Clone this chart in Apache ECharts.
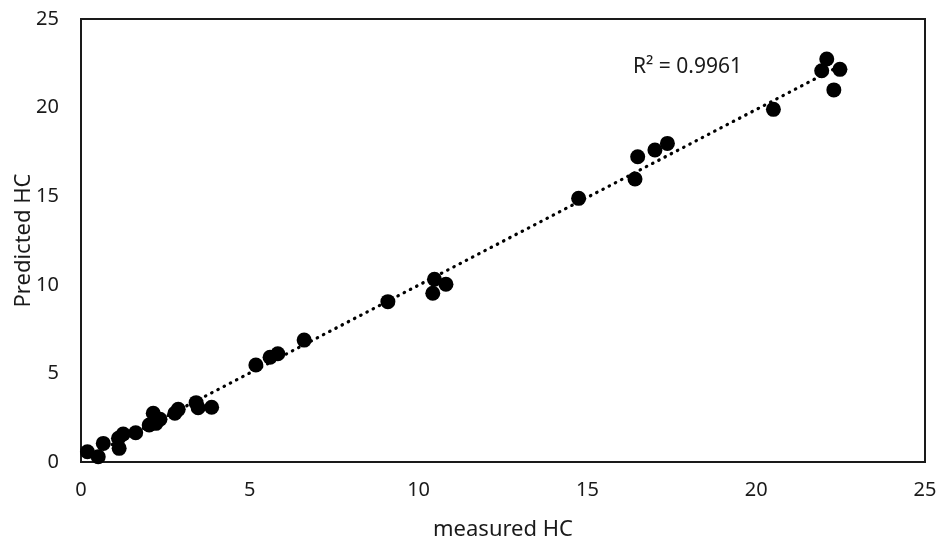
<!DOCTYPE html>
<html>
<head>
<meta charset="utf-8">
<script src="https://cdn.jsdelivr.net/npm/echarts@6/dist/echarts.min.js"></script>
<style>html,body{margin:0;padding:0;background:#fff}#c{width:939px;height:547px}</style>
</head>
<body>
<div id="c"></div>
<script>
const measured = [0.19,0.51,0.66,1.13,1.11,1.25,1.62,2.02,2.14,2.22,2.34,2.78,2.88,3.41,3.47,3.87,
  5.18,5.60,5.83,6.61,9.09,10.47,10.81,10.42,14.74,16.41,16.49,17.00,17.37,20.51,21.94,22.09,22.48,22.30];
const predicted = [0.58,0.30,1.05,0.77,1.34,1.58,1.65,2.09,2.75,2.18,2.41,2.75,2.97,3.35,3.06,3.09,
  5.47,5.91,6.11,6.88,9.05,10.31,10.03,9.52,14.88,15.97,17.23,17.61,17.98,19.9,22.08,22.74,22.16,21.0];
const xTicks = [0,5,10,15,20,25];
const yTicks = [0,5,10,15,20,25];
const r2Text = 'R² = 0.9961';

const pts = measured.map((x,i)=>[x,predicted[i]]);
// least squares trend line from data
const n = measured.length;
const mx = measured.reduce((a,b)=>a+b,0)/n, my = predicted.reduce((a,b)=>a+b,0)/n;
let sxy=0,sxx=0;
for(let i=0;i<n;i++){sxy+=(measured[i]-mx)*(predicted[i]-my);sxx+=(measured[i]-mx)**2;}
const slope=sxy/sxx, icpt=my-slope*mx;
const xmin=Math.min(...measured), xmax=Math.max(...measured);
const trend=[[xmin,icpt+slope*xmin],[xmax,icpt+slope*xmax]];

const font='"Noto Sans", sans-serif';
const chart = echarts.init(document.getElementById('c'));
chart.setOption({
  animation:false,
  grid:{left:81,top:19,right:14,bottom:85,show:true,borderColor:'#1a1a1a',borderWidth:2,backgroundColor:'#fff',
    containLabel:false,outerBoundsMode:'none'},
  xAxis:{type:'value',min:xTicks[0],max:xTicks[xTicks.length-1],interval:5,
    name:'measured HC',nameLocation:'middle',nameGap:57,nameMoveOverlap:false,
    nameTextStyle:{fontFamily:font,fontSize:22,color:'#1a1a1a'},
    axisLine:{show:false},axisTick:{show:false},splitLine:{show:false},
    axisLabel:{margin:18,fontFamily:font,fontSize:20,color:'#1a1a1a'}},
  yAxis:{type:'value',min:yTicks[0],max:yTicks[yTicks.length-1],interval:5,
    name:'Predicted HC',nameLocation:'middle',nameGap:46,nameMoveOverlap:false,
    nameTextStyle:{fontFamily:font,fontSize:22,color:'#1a1a1a'},
    axisLine:{show:false},axisTick:{show:false},splitLine:{show:false},
    axisLabel:{margin:22,fontFamily:font,fontSize:20,color:'#1a1a1a'}},
  series:[
    {type:'line',data:trend,symbol:'none',z:1,
      lineStyle:{color:'#000',width:3.2,type:[0.5,6.5],cap:'round'}},
    {type:'scatter',data:pts,symbolSize:15,z:2,itemStyle:{color:'#000',opacity:1}}
  ],
  graphic:[{type:'text',left:633,top:57,style:{text:r2Text,fontFamily:font,fontSize:21,fill:'#1a1a1a'}}]
});
</script>
</body>
</html>
